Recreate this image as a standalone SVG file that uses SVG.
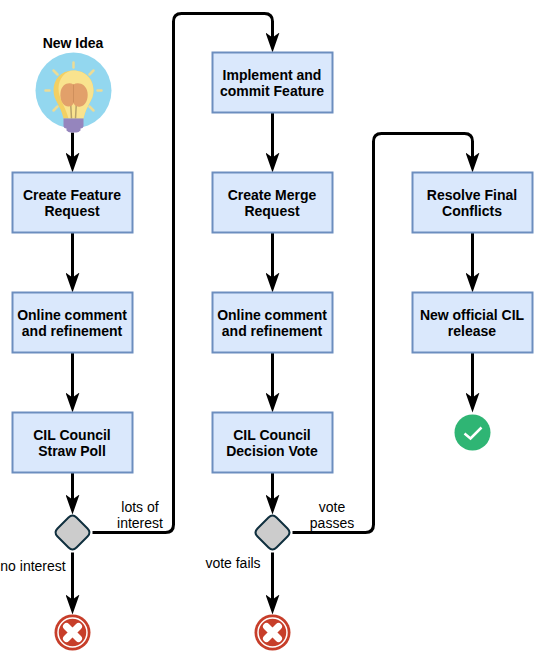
<svg xmlns="http://www.w3.org/2000/svg" width="534" height="654" viewBox="0 0 534 654">
<style>
.box{fill:#dae8fc;stroke:#6c8ebf;stroke-width:2}
.t{font-family:"Liberation Sans",Arial,sans-serif;font-size:14px;font-weight:bold;text-anchor:middle;fill:#000;transform:translate(-.5px,-.5px)}
.l{font-family:"Liberation Sans",Arial,sans-serif;font-size:14px;text-anchor:middle;fill:#000;transform:translate(-.5px,-.5px)}
.c{fill:none;stroke:#000;stroke-width:3;marker-end:url(#a)}
.d{fill:#ccc;stroke:#10303f;stroke-width:2}
.xo{fill:#c73e2a}
.xr{fill:none;stroke:#fff;stroke-width:1.5}
.xm{stroke:#fff;stroke-width:7;stroke-linecap:round}
</style>
<defs>
<marker id="a" markerUnits="userSpaceOnUse" markerWidth="20" markerHeight="14" refX="7" refY="7" orient="auto" viewBox="0 0 20 14">
<polygon points="0,0 20,7 0,14 5,7" fill="#000"/>
</marker>
<g id="xmark">
<circle class="xo" r="18"/><circle class="xr" r="14.5"/>
<path class="xm" d="M-6-6L6 6M6-6L-6 6"/>
</g>
</defs>
<g transform="translate(0.5 0.5)">
<g id="connectors">
<path class="c" d="M72 132V159"/>
<path class="c" d="M72 232V279"/>
<path class="c" d="M72 352V399"/>
<path class="c" d="M72 472V501"/>
<path class="c" d="M72 552V601"/>
<path class="c" d="M92 532H165Q173 532 173 524V21Q173 13 181 13H264Q272 13 272 21V39"/>
<path class="c" d="M272 112V159"/>
<path class="c" d="M272 232V279"/>
<path class="c" d="M272 352V399"/>
<path class="c" d="M272 472V501"/>
<path class="c" d="M272 552V601"/>
<path class="c" d="M292 532H365Q373 532 373 524V141Q373 133 381 133H464Q472 133 472 141V159"/>
<path class="c" d="M472 232V279"/>
<path class="c" d="M472 352V399"/>
</g>
<g id="labels">
<text class="l" x="140" y="512">lots of</text>
<text class="l" x="140" y="528">interest</text>
<text class="l" x="33" y="571">no interest</text>
<text class="l" x="332" y="512">vote</text>
<text class="l" x="332" y="528">passes</text>
<text class="l" x="233" y="568">vote fails</text>
</g>
<g id="new-idea">
<text class="t" x="73" y="48">New Idea</text>
<circle cx="73" cy="90" r="38" fill="#93d7ef"/>
<g stroke="#ecdc96" stroke-width="2.500" stroke-linecap="round">
<path d="M73 62V67M53 70L57 74M93 70L89 74M45 90H49M97 90H101M53 110L57 106M93 110L89 106"/>
</g>
<path d="M73 70C60 70 53 79 53 90C53 100 60 104 63 118H83C86 104 93 100 93 90C93 79 86 70 73 70Z" fill="#f3d063"/>
<path d="M73 70C85 70 93 79 93 90C93 100 86 104 83 118H68C64 104 58 98 58 88C58 78 65 70 73 70Z" fill="#f9e38e"/>
<path d="M70 100L71 118M76 100L75 118" stroke="#b8a26a" stroke-width="1.500" fill="none"/>
<path d="M73 84C68 81 61 84 60 92C59 100 63 106 68 106C71 106 73 104 73 102C73 104 76 107 80 106C85 105 88 99 87 92C86 84 78 81 73 84Z" fill="#e2a06a"/>
<path d="M73 84V102" stroke="#cf8f5c" stroke-width="1" fill="none"/>
<path d="M63 118H83V125Q83 128 80 128V130Q78 132 76 132H70Q68 132 66 130V128Q63 128 63 125Z" fill="#9585bd"/>
</g>
<g id="create-feature-request"><rect class="box" x="12" y="172" width="120" height="60"/><text class="t" x="72" y="200">Create Feature</text><text class="t" x="72" y="216">Request</text></g>
<g id="online-comment-1"><rect class="box" x="12" y="292" width="120" height="60"/><text class="t" x="72" y="320">Online comment</text><text class="t" x="72" y="336">and refinement</text></g>
<g id="straw-poll"><rect class="box" x="12" y="412" width="120" height="60"/><text class="t" x="72" y="440">CIL Council</text><text class="t" x="72" y="456">Straw Poll</text></g>
<g id="gateway-1"><path class="d" d="M68 517Q72 513 76 517L87 528Q91 532 87 536L76 547Q72 551 68 547L57 536Q53 532 57 528Z"/></g>
<g id="end-1"><use href="#xmark" x="72" y="632"/></g>
<g id="implement"><rect class="box" x="212" y="52" width="120" height="60"/><text class="t" x="272" y="80">Implement and</text><text class="t" x="272" y="96">commit Feature</text></g>
<g id="create-merge-request"><rect class="box" x="212" y="172" width="120" height="60"/><text class="t" x="272" y="200">Create Merge</text><text class="t" x="272" y="216">Request</text></g>
<g id="online-comment-2"><rect class="box" x="212" y="292" width="120" height="60"/><text class="t" x="272" y="320">Online comment</text><text class="t" x="272" y="336">and refinement</text></g>
<g id="decision-vote"><rect class="box" x="212" y="412" width="120" height="60"/><text class="t" x="272" y="440">CIL Council</text><text class="t" x="272" y="456">Decision Vote</text></g>
<g id="gateway-2"><path class="d" d="M268 517Q272 513 276 517L287 528Q291 532 287 536L276 547Q272 551 268 547L257 536Q253 532 257 528Z"/></g>
<g id="end-2"><use href="#xmark" x="272" y="632"/></g>
<g id="resolve"><rect class="box" x="412" y="172" width="120" height="60"/><text class="t" x="472" y="200">Resolve Final</text><text class="t" x="472" y="216">Conflicts</text></g>
<g id="release"><rect class="box" x="412" y="292" width="120" height="60"/><text class="t" x="472" y="320">New official CIL</text><text class="t" x="472" y="336">release</text></g>
<g id="done"><circle cx="472" cy="432" r="18" fill="#2fb574"/><path d="M464 433L470 438L481 427" fill="none" stroke="#fff" stroke-width="2.500"/></g>
</g>
</svg>
